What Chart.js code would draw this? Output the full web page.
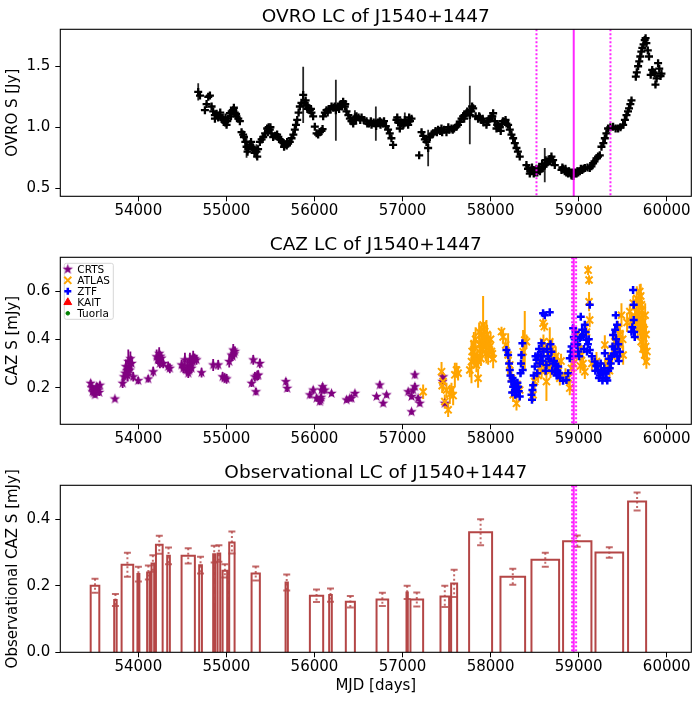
<!DOCTYPE html>
<html>
<head>
<meta charset="utf-8">
<script src="https://cdn.jsdelivr.net/npm/chart.js@4.4.0/dist/chart.umd.min.js"></script>
<style>
  body { margin: 0; background: #fff; width: 699px; height: 702px; position: relative; overflow: hidden; }
  canvas { position: absolute; left: 0; }
</style>
</head>
<body>
<canvas id="ovro" width="699" height="228" style="top:2px"></canvas>
<canvas id="caz" width="699" height="228" style="top:230px"></canvas>
<canvas id="obs" width="699" height="244" style="top:458px"></canvas>
<script>
// ---- data ----
const xTicks = [54000, 55000, 56000, 57000, 58000, 59000, 60000];
const ovroTicks = [0.5, 1.0, 1.5];
const cazTicks = [0.2, 0.4, 0.6];
const obsTicks = [0.0, 0.2, 0.4];

const peakMjd = 58944;
const ovroBounds = [58521, 59361];
const cazBounds = [58925, 58971];

const ovroMjd = [54680, 54700, 54756, 54775, 54794, 54813, 54832, 54850, 54869, 54888, 54907, 54926, 54945, 54965, 54985,
  55002, 55020, 55040, 55060, 55077, 55095, 55115, 55135, 55153, 55172, 55190, 55199, 55215, 55229, 55248, 55267, 55285,
  55304, 55325, 55342, 55360, 55380, 55400, 55418, 55440, 55463, 55480, 55493, 55512, 55531, 55555, 55576, 55590, 55607,
  55630, 55650, 55664, 55685, 55701, 55720, 55740, 55760, 55777, 55790, 55804, 55820, 55834, 55852, 55872, 55890, 55910,
  55930, 55948, 55966, 55985, 56004, 56024, 56042, 56061, 56080, 56092, 56099, 56118, 56137, 56165, 56194, 56215, 56243,
  56265, 56288, 56305, 56326, 56345, 56364, 56385, 56402, 56420, 56440, 56459, 56477, 56500, 56535, 56560, 56591, 56620,
  56648, 56672, 56697, 56720, 56742, 56760, 56780, 56810, 56836, 56855, 56874, 56893, 56931, 56950, 56969, 56990, 57026,
  57045, 57064, 57085, 57102, 57189, 57216, 57235, 57253, 57272, 57291, 57310, 57330, 57348, 57375, 57404, 57425, 57442,
  57470, 57499, 57530, 57556, 57585, 57613, 57630, 57650, 57670, 57688, 57705, 57726, 57745, 57764, 57780, 57802, 57830,
  57858, 57878, 57896, 57920, 57953, 57975, 57991, 58010, 58029, 58048, 58067, 58086, 58105, 58130, 58161, 58180, 58199,
  58218, 58237, 58256, 58275, 58294, 58310, 58331, 58407, 58425, 58445, 58465, 58483, 58505, 58521, 58540, 58560, 58578,
  58597, 58615, 58634, 58653, 58672, 58691, 58710, 58729, 58805, 58820, 58842, 58860, 58880, 58900, 58918, 58940, 58960,
  58975, 58995, 59013, 59040, 59070, 59100, 59126, 59145, 59164, 59180, 59202, 59220, 59240, 59259, 59280, 59297, 59315,
  59334, 59360, 59391, 59420, 59448, 59475, 59505, 59525, 59543, 59560, 59572, 59587, 59600, 59649, 59660, 59675, 59688,
  59700, 59712, 59723, 59737, 59750, 59760, 59769, 59785, 59799, 59818, 59835, 59850, 59864, 59872, 59885, 59902, 59915,
  59930, 59940,
  // second pass over the thick parts of the band
  54870, 54930, 54990, 55010, 55050, 55085, 55110, 55240, 55280, 55320, 55350, 55470, 55500, 55655, 55690, 55900,
  55920, 55960, 56150, 56180, 56230, 56280, 56310, 56350, 56470, 56520, 56600, 56640, 56700, 56750, 56790, 56940,
  56980, 57010, 57075, 57390, 57450, 57520, 57570, 57700, 57735, 57790, 57870, 57910, 57965, 58020, 58075, 58115,
  58140, 58170, 58450, 58470, 58490, 58530, 58550, 58585, 58625, 58680, 58815, 58850, 58890, 58925, 58950, 58985,
  59025, 59055];
const ovroFlux = [1.29, 1.26, 1.14, 1.19, 1.25, 1.26, 1.17, 1.13, 1.10, 1.11, 1.08, 1.10, 1.07, 1.06, 1.04,
  1.02, 1.07, 1.115, 1.13, 1.14, 1.12, 1.09, 1.07, 1.05, 0.96, 0.94, 0.92, 0.88, 0.84, 0.82, 0.86, 0.84,
  0.83, 0.81, 0.80, 0.82, 0.88, 0.90, 0.92, 0.95, 0.99, 1.00, 0.98, 0.95, 0.92, 0.93, 0.94, 0.92, 0.90,
  0.88, 0.87, 0.86, 0.85, 0.865, 0.88, 0.91, 0.94, 0.98, 1.02, 1.06, 1.12, 1.17, 1.20, 1.265, 1.20, 1.18,
  1.16, 1.14, 1.12, 1.09, 1.005, 0.95, 0.94, 0.96, 0.97, 0.985, 1.09, 1.12, 1.14, 1.15, 1.17, 1.16, 1.14,
  1.17, 1.18, 1.19, 1.21, 1.17, 1.13, 1.10, 1.07, 1.05, 1.03, 1.08, 1.09, 1.08, 1.08, 1.06, 1.05, 1.03,
  1.02, 1.04, 1.03, 1.04, 1.05, 1.04, 1.03, 1.01, 0.98, 0.95, 0.91, 0.855, 1.06, 1.04, 0.99, 1.03, 1.06,
  1.04, 1.02, 1.05, 1.07, 0.77, 0.96, 0.93, 0.90, 0.88, 0.83, 0.92, 0.94, 0.95, 0.97, 0.98, 0.97, 0.99,
  0.98, 0.96, 0.98, 0.99, 0.99, 1.005, 1.02, 1.045, 1.07, 1.09, 1.10, 1.115, 1.12, 1.10, 1.13, 1.155, 1.09,
  1.07, 1.08, 1.06, 1.04, 1.02, 1.05, 1.07, 1.09, 1.115, 1.05, 0.99, 1.01, 1.00, 1.03, 1.045, 1.03, 1.02,
  0.98, 0.94, 0.91, 0.87, 0.83, 0.80, 0.76, 0.69, 0.66, 0.62, 0.64, 0.65, 0.63, 0.66, 0.65, 0.64, 0.66,
  0.68, 0.69, 0.70, 0.72, 0.74, 0.76, 0.73, 0.69, 0.65, 0.66, 0.64, 0.63, 0.62, 0.63, 0.61, 0.60, 0.63,
  0.62, 0.63, 0.64, 0.65, 0.665, 0.67, 0.665, 0.68, 0.705, 0.72, 0.745, 0.76, 0.77, 0.84, 0.87, 0.91, 0.95,
  0.99, 1.00, 1.005, 0.99, 0.99, 1.00, 1.02, 1.06, 1.10, 1.13, 1.155, 1.19, 1.22, 1.415, 1.45, 1.50, 1.54,
  1.58, 1.62, 1.65, 1.68, 1.715, 1.73, 1.69, 1.63, 1.58, 1.43, 1.47, 1.45, 1.44, 1.35, 1.40, 1.525, 1.48,
  1.42, 1.44,
  1.07, 1.12, 1.08, 1.05, 1.09, 1.16, 1.11, 0.80, 0.88, 0.79, 0.76, 0.96, 1.00, 0.84, 0.88, 1.22,
  1.15, 1.15, 1.12, 1.15, 1.17, 1.15, 1.17, 1.19, 1.06, 1.06, 1.03, 1.05, 1.01, 1.02, 1.05, 1.08,
  1.04, 1.02, 1.08, 0.96, 0.96, 1.00, 0.98, 1.07, 1.13, 1.17, 1.09, 1.07, 1.05, 1.09, 1.02, 0.97,
  1.05, 1.06, 0.64, 0.67, 0.62, 0.63, 0.66, 0.70, 0.73, 0.72, 0.67, 0.66, 0.64, 0.63, 0.62, 0.64,
  0.66, 0.66];
// most OVRO errors hide under the markers; only the big ones are listed
const ovroBigErrMjd = [54680, 55229, 55342, 55872, 56243, 56459, 56697, 57026, 57291, 57764, 58615, 58918];
const ovroBigErr = [0.07, 0.09, 0.06, 0.23, 0.25, 0.06, 0.14, 0.06, 0.15, 0.24, 0.14, 0.04];

const crtsMjd = [53459, 53470, 53481, 53495, 53508, 53520, 53527, 53546, 53564, 53734, 53822, 53837, 53850, 53859,
  53872, 53886, 53895, 53905, 53924, 53942, 53999, 54112, 54169, 54208, 54222, 54237, 54250, 54263, 54283, 54339,
  54358, 54491, 54510, 54529, 54548, 54567, 54586, 54595, 54605, 54623, 54640, 54661, 54718, 54850, 54907, 54957,
  54980, 55002, 55032, 55059, 55078, 55097, 55286, 55305, 55324, 55335, 55350, 55362, 55380, 55675, 55690, 55948,
  55986, 56024, 56061, 56075, 56092, 56118, 56194, 56364, 56402, 56421, 56459, 56705, 56742, 56780, 56818, 57064,
  57102, 57102, 57120, 57140, 57140, 57177, 57196, 57454, 57461, 57480,
  53490, 53535, 53555, 53880, 53910, 54230, 54245, 54560, 54575, 54600, 54615, 55070, 55090, 56070, 56080];
const crtsFlux = [0.218, 0.20, 0.183, 0.178, 0.17, 0.19, 0.204, 0.19, 0.21, 0.153, 0.218, 0.245, 0.26, 0.287,
  0.27, 0.308, 0.29, 0.273, 0.30, 0.245, 0.229, 0.236, 0.266, 0.328, 0.315, 0.342, 0.33, 0.322, 0.30, 0.287,
  0.28, 0.294, 0.28, 0.315, 0.273, 0.26, 0.315, 0.29, 0.28, 0.328, 0.32, 0.315, 0.262, 0.294, 0.294, 0.245,
  0.24, 0.236, 0.308, 0.335, 0.356, 0.35, 0.218, 0.315, 0.245, 0.183, 0.25, 0.252, 0.30, 0.225, 0.197, 0.17,
  0.19, 0.156, 0.142, 0.16, 0.204, 0.19, 0.176, 0.149, 0.156, 0.156, 0.176, 0.163, 0.211, 0.135, 0.17, 0.183,
  0.163, 0.10, 0.19, 0.253, 0.204, 0.156, 0.135, 0.225, 0.245, 0.135,
  0.19, 0.20, 0.18, 0.25, 0.32, 0.32, 0.30, 0.29, 0.27, 0.30, 0.31, 0.33, 0.34, 0.15, 0.19];
const crtsErr = [0.015, 0.012, 0.015, 0.012, 0.012, 0.015, 0.015, 0.012, 0.015, 0.01, 0.02, 0.02, 0.02, 0.03,
  0.02, 0.05, 0.02, 0.02, 0.03, 0.02, 0.015, 0.015, 0.02, 0.03, 0.02, 0.025, 0.02, 0.02, 0.02, 0.02,
  0.02, 0.02, 0.02, 0.03, 0.02, 0.02, 0.03, 0.02, 0.02, 0.025, 0.02, 0.02, 0.02, 0.025, 0.02, 0.02,
  0.02, 0.02, 0.025, 0.025, 0.025, 0.02, 0.015, 0.02, 0.02, 0.015, 0.02, 0.02, 0.02, 0.015, 0.015, 0.015,
  0.015, 0.015, 0.015, 0.015, 0.015, 0.015, 0.012, 0.012, 0.012, 0.012, 0.012, 0.012, 0.015, 0.012, 0.012, 0.012,
  0.012, 0.012, 0.015, 0.015, 0.015, 0.012, 0.012, 0.015, 0.015, 0.012,
  0.015, 0.015, 0.015, 0.025, 0.03, 0.02, 0.02, 0.025, 0.02, 0.02, 0.02, 0.02, 0.02, 0.012, 0.015];

const atlasMjd = [57234, 57443, 57450, 57460, 57480, 57499, 57518, 57537, 57556, 57575, 57594, 57613, 57631, 57764,
  57783, 57802, 57810, 57820, 57839, 57850, 57858, 57877, 57896, 57905, 57915, 57925, 57934, 57945, 57953, 57972,
  57991, 58000, 58010, 58029, 58124, 58142, 58172, 58199, 58218, 58237, 58256, 58294, 58331, 58369, 58388, 58407,
  58483, 58500, 58550, 58580, 58596, 58600, 58610, 58634, 58650, 58672, 58690, 58700, 58729, 58760, 58786, 58850,
  58899, 58918, 58950, 58975, 59000, 59032, 59050, 59070, 59090, 59107, 59118, 59118, 59125, 59202, 59250, 59297,
  59334, 59380, 59410, 59430, 59448, 59470, 59486, 59505, 59550, 59581, 59600, 59620, 59656, 59680, 59694, 59700,
  59710, 59713, 59720, 59725, 59732, 59740, 59750, 59760, 59769,
  57790, 57815, 57830, 57860, 57870, 57885, 57890, 57910, 57940, 57960, 57980, 58020, 58540, 58560, 58590, 58620,
  58660, 58680, 58710, 58740, 58770, 58800, 58880, 58940, 59020, 59150, 59300, 59350, 59460, 59500, 59640, 59660,
  59670, 59685, 59690, 59705, 59715, 59730, 59745, 59755, 59765, 59775];
const atlasFlux = [0.183, 0.266, 0.208, 0.225, 0.142, 0.19, 0.108, 0.172, 0.19, 0.167, 0.253, 0.273, 0.26, 0.273,
  0.308, 0.349, 0.38, 0.335, 0.294, 0.33, 0.239, 0.377, 0.418, 0.36, 0.46, 0.40, 0.432, 0.34, 0.39, 0.335,
  0.37, 0.40, 0.35, 0.32, 0.432, 0.41, 0.377, 0.335, 0.294, 0.239, 0.17, 0.135, 0.19, 0.349, 0.397, 0.39,
  0.17, 0.225, 0.30, 0.27, 0.467, 0.39, 0.453, 0.225, 0.34, 0.39, 0.294, 0.36, 0.32, 0.30, 0.239, 0.25,
  0.198, 0.28, 0.33, 0.418, 0.36, 0.335, 0.30, 0.266, 0.43, 0.687, 0.646, 0.556, 0.48, 0.308, 0.27, 0.377,
  0.308, 0.33, 0.39, 0.36, 0.446, 0.42, 0.50, 0.335, 0.47, 0.515, 0.474, 0.55, 0.515, 0.50, 0.598, 0.45,
  0.39, 0.543, 0.52, 0.432, 0.473, 0.405, 0.335, 0.37, 0.308,
  0.35, 0.31, 0.40, 0.31, 0.43, 0.36, 0.32, 0.39, 0.37, 0.42, 0.38, 0.34, 0.25, 0.32, 0.36, 0.28,
  0.30, 0.27, 0.28, 0.33, 0.27, 0.31, 0.24, 0.30, 0.29, 0.30, 0.29, 0.27, 0.38, 0.40, 0.49, 0.57,
  0.44, 0.55, 0.48, 0.58, 0.47, 0.36, 0.44, 0.50, 0.42, 0.35];
const atlasErr = [0.03, 0.04, 0.03, 0.04, 0.03, 0.03, 0.03, 0.04, 0.03, 0.04, 0.05, 0.03, 0.03, 0.03,
  0.09, 0.04, 0.05, 0.05, 0.03, 0.03, 0.04, 0.08, 0.05, 0.04, 0.12, 0.04, 0.04, 0.03, 0.09, 0.04,
  0.03, 0.03, 0.03, 0.04, 0.02, 0.03, 0.03, 0.09, 0.03, 0.04, 0.03, 0.03, 0.04, 0.09, 0.12, 0.03,
  0.03, 0.04, 0.03, 0.03, 0.02, 0.03, 0.02, 0.08, 0.03, 0.06, 0.04, 0.04, 0.03, 0.03, 0.03, 0.03,
  0.03, 0.03, 0.03, 0.03, 0.03, 0.04, 0.03, 0.03, 0.03, 0.02, 0.02, 0.04, 0.03, 0.04, 0.03, 0.04,
  0.03, 0.03, 0.05, 0.03, 0.03, 0.03, 0.05, 0.04, 0.04, 0.03, 0.04, 0.03, 0.06, 0.04, 0.03, 0.05,
  0.04, 0.04, 0.04, 0.05, 0.04, 0.04, 0.04, 0.03, 0.03,
  0.04, 0.03, 0.05, 0.03, 0.04, 0.04, 0.03, 0.04, 0.03, 0.04, 0.03, 0.03, 0.03, 0.03, 0.04, 0.03,
  0.03, 0.03, 0.03, 0.04, 0.03, 0.03, 0.03, 0.03, 0.03, 0.03, 0.03, 0.03, 0.04, 0.04, 0.04, 0.05,
  0.04, 0.05, 0.04, 0.05, 0.04, 0.04, 0.04, 0.05, 0.04, 0.03];

const ztfMjd = [58180, 58199, 58218, 58237, 58250, 58256, 58275, 58285, 58294, 58305, 58313, 58331, 58340, 58350,
  58361, 58365, 58464, 58475, 58483, 58502, 58521, 58540, 58560, 58578, 58596, 58615, 58634, 58660, 58672, 58691,
  58710, 58729, 58750, 58767, 58790, 58823, 58861, 58899, 58920, 58937, 58955, 58975, 58995, 59013, 59024, 59040,
  59050, 59070, 59088, 59105, 59126, 59126, 59150, 59183, 59200, 59221, 59240, 59259, 59280, 59297, 59315, 59335,
  59353, 59375, 59391, 59410, 59421, 59436, 59450, 59467, 59600, 59618, 59625, 59625, 59637,
  58210, 58225, 58245, 58265, 58280, 58300, 58320, 58345, 58470, 58490, 58510, 58530, 58550, 58570, 58590, 58600,
  58625, 58640, 58650, 58680, 58700, 58720, 58740, 58760, 58780, 58880, 58910, 58930, 58945, 58965, 58985, 59005,
  59030, 59060, 59080, 59095, 59115, 59190, 59210, 59230, 59250, 59270, 59290, 59305, 59325, 59345, 59365, 59385,
  59400, 59415, 59425, 59440, 59455, 59610, 59630];
const ztfFlux = [0.356, 0.335, 0.273, 0.225, 0.24, 0.204, 0.21, 0.19, 0.183, 0.22, 0.204, 0.163, 0.26, 0.335,
  0.384, 0.273, 0.17, 0.19, 0.21, 0.287, 0.315, 0.335, 0.30, 0.384, 0.508, 0.50, 0.294, 0.32, 0.512, 0.349,
  0.30, 0.266, 0.25, 0.287, 0.24, 0.228, 0.232, 0.322, 0.37, 0.446, 0.40, 0.377, 0.35, 0.405, 0.494, 0.44,
  0.418, 0.46, 0.398, 0.38, 0.543, 0.356, 0.33, 0.308, 0.29, 0.273, 0.25, 0.266, 0.26, 0.342, 0.239, 0.27,
  0.28, 0.33, 0.418, 0.36, 0.50, 0.46, 0.38, 0.349, 0.432, 0.605, 0.543, 0.48, 0.41,
  0.30, 0.25, 0.18, 0.23, 0.17, 0.20, 0.185, 0.30, 0.15, 0.25, 0.33, 0.26, 0.36, 0.33, 0.31, 0.35,
  0.27, 0.36, 0.33, 0.38, 0.27, 0.31, 0.29, 0.27, 0.26, 0.26, 0.35, 0.33, 0.41, 0.43, 0.38, 0.33,
  0.41, 0.36, 0.43, 0.35, 0.40, 0.27, 0.29, 0.24, 0.30, 0.23, 0.28, 0.26, 0.23, 0.32, 0.30, 0.37,
  0.34, 0.44, 0.40, 0.33, 0.31, 0.45, 0.43];

const kaitMjd = [];
const kaitFlux = [];
const tuorlaMjd = [];
const tuorlaFlux = [];

const binStart = [53459, 53726, 53810, 53990, 54100, 54150, 54200, 54328, 54491, 54691, 54850, 54900, 54957, 55032,
  55286, 55672, 55948, 56167, 56356, 56705, 57045, 57090, 57431, 57552, 57756, 58112, 58464, 58823, 59191, 59561];
const binEnd = [53557, 53754, 53942, 54012, 54128, 54180, 54276, 54358, 54642, 54722, 54873, 54930, 55009, 55093,
  55380, 55698, 56099, 56197, 56459, 56837, 57060, 57234, 57529, 57620, 58017, 58392, 58778, 59145, 59505, 59766];
const obsFlux = [0.200, 0.157, 0.263, 0.235, 0.240, 0.267, 0.323, 0.290, 0.290, 0.262, 0.295, 0.297, 0.245, 0.330,
  0.237, 0.210, 0.170, 0.172, 0.152, 0.159, 0.180, 0.159, 0.168, 0.207, 0.361, 0.227, 0.278, 0.334, 0.300, 0.453];
const obsErr = [0.021, 0.018, 0.036, 0.022, 0.021, 0.025, 0.027, 0.025, 0.023, 0.025, 0.025, 0.025, 0.020, 0.033,
  0.021, 0.024, 0.019, 0.020, 0.017, 0.020, 0.020, 0.021, 0.032, 0.041, 0.039, 0.024, 0.021, 0.017, 0.016, 0.027];

// ---- helpers ----
const xMin = 53114, xMax = 60279;
const tickFont = { family: "'DejaVu Sans'", size: 15 };

Chart.defaults.font.family = "'DejaVu Sans'";
Chart.defaults.color = '#000';

const pts = (xs, ys) => xs.map((x, i) => ({ x: x, y: ys[i] }));

function starImage(color, r) {
  const c = document.createElement('canvas');
  const size = Math.ceil(r * 2 + 2);
  c.width = c.height = size;
  const g = c.getContext('2d');
  g.fillStyle = color;
  g.beginPath();
  for (let k = 0; k < 10; k++) {
    const rad = k % 2 ? r * 0.4 : r;
    const a = -Math.PI / 2 + k * Math.PI / 5;
    g.lineTo(size / 2 + rad * Math.cos(a), size / 2 + rad * Math.sin(a));
  }
  g.closePath();
  g.fill();
  return c;
}

function xAxis(label) {
  return {
    type: 'linear',
    min: xMin,
    max: xMax,
    afterBuildTicks: s => { s.ticks = xTicks.map(v => ({ value: v })); },
    afterFit: s => { s.height = label ? 49.7 : 33.7; },
    grid: { drawOnChartArea: false, drawTicks: true, tickLength: 5, color: '#000' },
    border: { display: false },
    ticks: { font: tickFont, color: '#000', padding: 1, maxRotation: 0, autoSkip: false, callback: v => String(v) },
    title: label
      ? { display: true, text: label, font: tickFont, color: '#000', padding: { top: 0, bottom: 7 } }
      : { display: false }
  };
}

function yAxis(min, max, ticks, label) {
  return {
    type: 'linear',
    min: min,
    max: max,
    afterBuildTicks: s => { s.ticks = ticks.map(v => ({ value: v })); },
    afterFit: s => { s.width = 60.3; },
    grid: { drawOnChartArea: false, drawTicks: true, tickLength: 5, color: '#000' },
    border: { display: false },
    ticks: { font: tickFont, color: '#000', padding: 5, callback: v => v.toFixed(1) },
    title: { display: true, text: label, font: tickFont, color: '#000', padding: { top: 4.3, bottom: 0 } }
  };
}

function titleOpts(text) {
  return {
    display: true, text: text, color: '#000', fullSize: false,
    font: { family: "'DejaVu Sans'", size: 18.5, weight: 'normal' },
    padding: { top: 4, bottom: 1.1 }
  };
}

// error bars drawn through the scales, under the markers
const errorBars = {
  id: 'errorBars',
  beforeDatasetsDraw(chart) {
    const { ctx, chartArea: a, scales: { x, y } } = chart;
    ctx.save();
    ctx.beginPath();
    ctx.rect(a.left, a.top, a.width, a.height);
    ctx.clip();
    chart.data.datasets.forEach(ds => {
      if (!ds.errors) return;
      ds.data.forEach((p, j) => {
        const e = ds.errors[j];
        if (!e || p.y == null) return;
        const px = x.getPixelForValue(p.x);
        const top = y.getPixelForValue(p.y + e);
        const bot = y.getPixelForValue(p.y - e);
        ctx.strokeStyle = ds.errorColor;
        ctx.lineWidth = ds.errorWidth || 1.5;
        ctx.setLineDash(ds.errorDash || []);
        ctx.beginPath();
        ctx.moveTo(px, top);
        ctx.lineTo(px, bot);
        ctx.stroke();
        if (ds.capSize) {
          ctx.setLineDash([]);
          ctx.lineWidth = 2;
          ctx.beginPath();
          ctx.moveTo(px - ds.capSize, top); ctx.lineTo(px + ds.capSize, top);
          ctx.moveTo(px - ds.capSize, bot); ctx.lineTo(px + ds.capSize, bot);
          ctx.stroke();
        }
      });
    });
    ctx.restore();
  }
};

// vertical magenta markers + axes frame
const vLines = {
  id: 'vLines',
  afterDatasetsDraw(chart, args, opts) {
    const { ctx, chartArea: a, scales: { x } } = chart;
    ctx.save();
    ctx.strokeStyle = 'rgba(255, 0, 255, 0.85)';
    ctx.lineWidth = 2;
    (opts.lines || []).forEach(l => {
      const px = x.getPixelForValue(l.x);
      ctx.setLineDash(l.dotted ? [2, 2] : []);
      ctx.beginPath();
      ctx.moveTo(px, a.top);
      ctx.lineTo(px, a.bottom);
      ctx.stroke();
    });
    ctx.setLineDash([]);
    ctx.strokeStyle = '#000';
    ctx.lineWidth = 1.1;
    ctx.strokeRect(a.left, a.top, a.width, a.height);
    ctx.restore();
  }
};

const insetLegend = {
  id: 'insetLegend',
  afterDraw(chart, args, opts) {
    if (!opts.display) return;
    const { ctx, chartArea: a } = chart;
    const x0 = a.left + 4, y0 = a.top + 6;
    ctx.save();
    ctx.fillStyle = 'rgba(255,255,255,0.8)';
    ctx.strokeStyle = '#d6d6d6';
    ctx.lineWidth = 1;
    ctx.beginPath();
    ctx.roundRect(x0, y0, 49, 56, 2);
    ctx.fill();
    ctx.stroke();
    ctx.font = "10.5px 'DejaVu Sans'";
    ctx.textBaseline = 'middle';
    chart.data.datasets.forEach((ds, i) => {
      const cy = y0 + 6 + i * 11;
      const cx = x0 + 3.5;
      ctx.fillStyle = ds.backgroundColor;
      ctx.strokeStyle = ds.borderColor;
      ctx.lineWidth = ds.borderWidth;
      Chart.helpers.drawPoint(ctx, {
        pointStyle: ds.pointStyle, radius: ds.legendRadius, rotation: 0, borderWidth: ds.borderWidth
      }, cx, cy);
      ctx.fillStyle = '#000';
      ctx.fillText(ds.label, x0 + 13, cy + 0.5);
    });
    ctx.restore();
  }
};

const baseOptions = (title, xLabel, yOpts, lines, legend) => ({
  responsive: false,
  animation: false,
  events: [],
  layout: { padding: { left: 0, right: 7.7, top: 0, bottom: 0 } },
  scales: { x: xAxis(xLabel), y: yOpts },
  plugins: {
    legend: { display: false },
    tooltip: { enabled: false },
    title: titleOpts(title),
    vLines: { lines: lines },
    insetLegend: { display: legend }
  }
});

const ovroErrors = ovroMjd.map(m => {
  const k = ovroBigErrMjd.indexOf(m);
  return k >= 0 ? ovroBigErr[k] : 0.015;
});

// ---- OVRO panel ----
new Chart(document.getElementById('ovro'), {
  type: 'scatter',
  data: {
    datasets: [{
      label: 'OVRO',
      data: pts(ovroMjd, ovroFlux),
      errors: ovroErrors, errorColor: 'rgba(0,0,0,0.85)', errorWidth: 1.8,
      pointStyle: 'cross', pointRadius: 4, borderWidth: 2.3,
      borderColor: '#000', backgroundColor: '#000'
    }]
  },
  options: baseOptions('OVRO LC of J1540+1447', null,
    yAxis(0.434, 1.803, ovroTicks, 'OVRO S [Jy]'),
    [{ x: ovroBounds[0], dotted: true }, { x: peakMjd }, { x: ovroBounds[1], dotted: true }], false),
  plugins: [errorBars, vLines, insetLegend]
});

// ---- CAZ panel ----
new Chart(document.getElementById('caz'), {
  type: 'scatter',
  data: {
    datasets: [
      {
        label: 'CRTS', order: 3, data: pts(crtsMjd, crtsFlux),
        errors: crtsErr, errorColor: '#800080', errorWidth: 1.8,
        pointStyle: starImage('#800080', 5.5), legendRadius: 4, borderWidth: 1,
        borderColor: '#800080', backgroundColor: '#800080'
      },
      {
        label: 'ATLAS', order: 2, data: pts(atlasMjd, atlasFlux),
        errors: atlasErr, errorColor: '#ffa500', errorWidth: 2,
        pointStyle: 'crossRot', pointRadius: 5, legendRadius: 5, borderWidth: 2,
        borderColor: '#ffa500', backgroundColor: '#ffa500'
      },
      {
        label: 'ZTF', order: 1, data: pts(ztfMjd, ztfFlux),
        errors: ztfMjd.map(() => 0.012), errorColor: '#0000ff', errorWidth: 1.5,
        pointStyle: 'cross', pointRadius: 4, legendRadius: 3.5, borderWidth: 2.5,
        borderColor: '#0000ff', backgroundColor: '#0000ff'
      },
      {
        label: 'KAIT', order: 4, data: pts(kaitMjd, kaitFlux),
        pointStyle: 'triangle', pointRadius: 4, legendRadius: 4.5, borderWidth: 1,
        borderColor: '#ff0000', backgroundColor: '#ff0000'
      },
      {
        label: 'Tuorla', order: 5, data: pts(tuorlaMjd, tuorlaFlux),
        pointStyle: 'circle', pointRadius: 2, legendRadius: 1.8, borderWidth: 1,
        borderColor: '#008000', backgroundColor: '#008000'
      }
    ]
  },
  options: baseOptions('CAZ LC of J1540+1447', null,
    yAxis(0.048, 0.74, cazTicks, 'CAZ S [mJy]'),
    [{ x: cazBounds[0], dotted: true }, { x: peakMjd }, { x: cazBounds[1], dotted: true }], true),
  plugins: [errorBars, vLines, insetLegend]
});

// ---- observational panel ----
const barOutline = [];
binStart.forEach((s, i) => {
  barOutline.push({ x: s, y: 0 }, { x: s, y: obsFlux[i] }, { x: binEnd[i], y: obsFlux[i] },
    { x: binEnd[i], y: 0 }, { x: binEnd[i], y: null });
});
const binMid = binStart.map((s, i) => (s + binEnd[i]) / 2);

new Chart(document.getElementById('obs'), {
  type: 'scatter',
  data: {
    datasets: [
      {
        label: 'bars', data: barOutline, showLine: true, spanGaps: false,
        pointRadius: 0, borderWidth: 2, borderColor: 'rgb(180, 70, 70)', fill: false, tension: 0
      },
      {
        label: 'errors', data: pts(binMid, obsFlux), pointRadius: 0,
        errors: obsErr, errorColor: 'rgba(180, 70, 70, 0.8)', errorWidth: 2, errorDash: [2, 2.5], capSize: 3.5
      }
    ]
  },
  options: baseOptions('Observational LC of J1540+1447', 'MJD [days]',
    yAxis(0, 0.502, obsTicks, 'Observational CAZ S [mJy]'),
    [{ x: cazBounds[0], dotted: true }, { x: peakMjd }, { x: cazBounds[1], dotted: true }], false),
  plugins: [errorBars, vLines, insetLegend]
});
</script>
</body>
</html>
